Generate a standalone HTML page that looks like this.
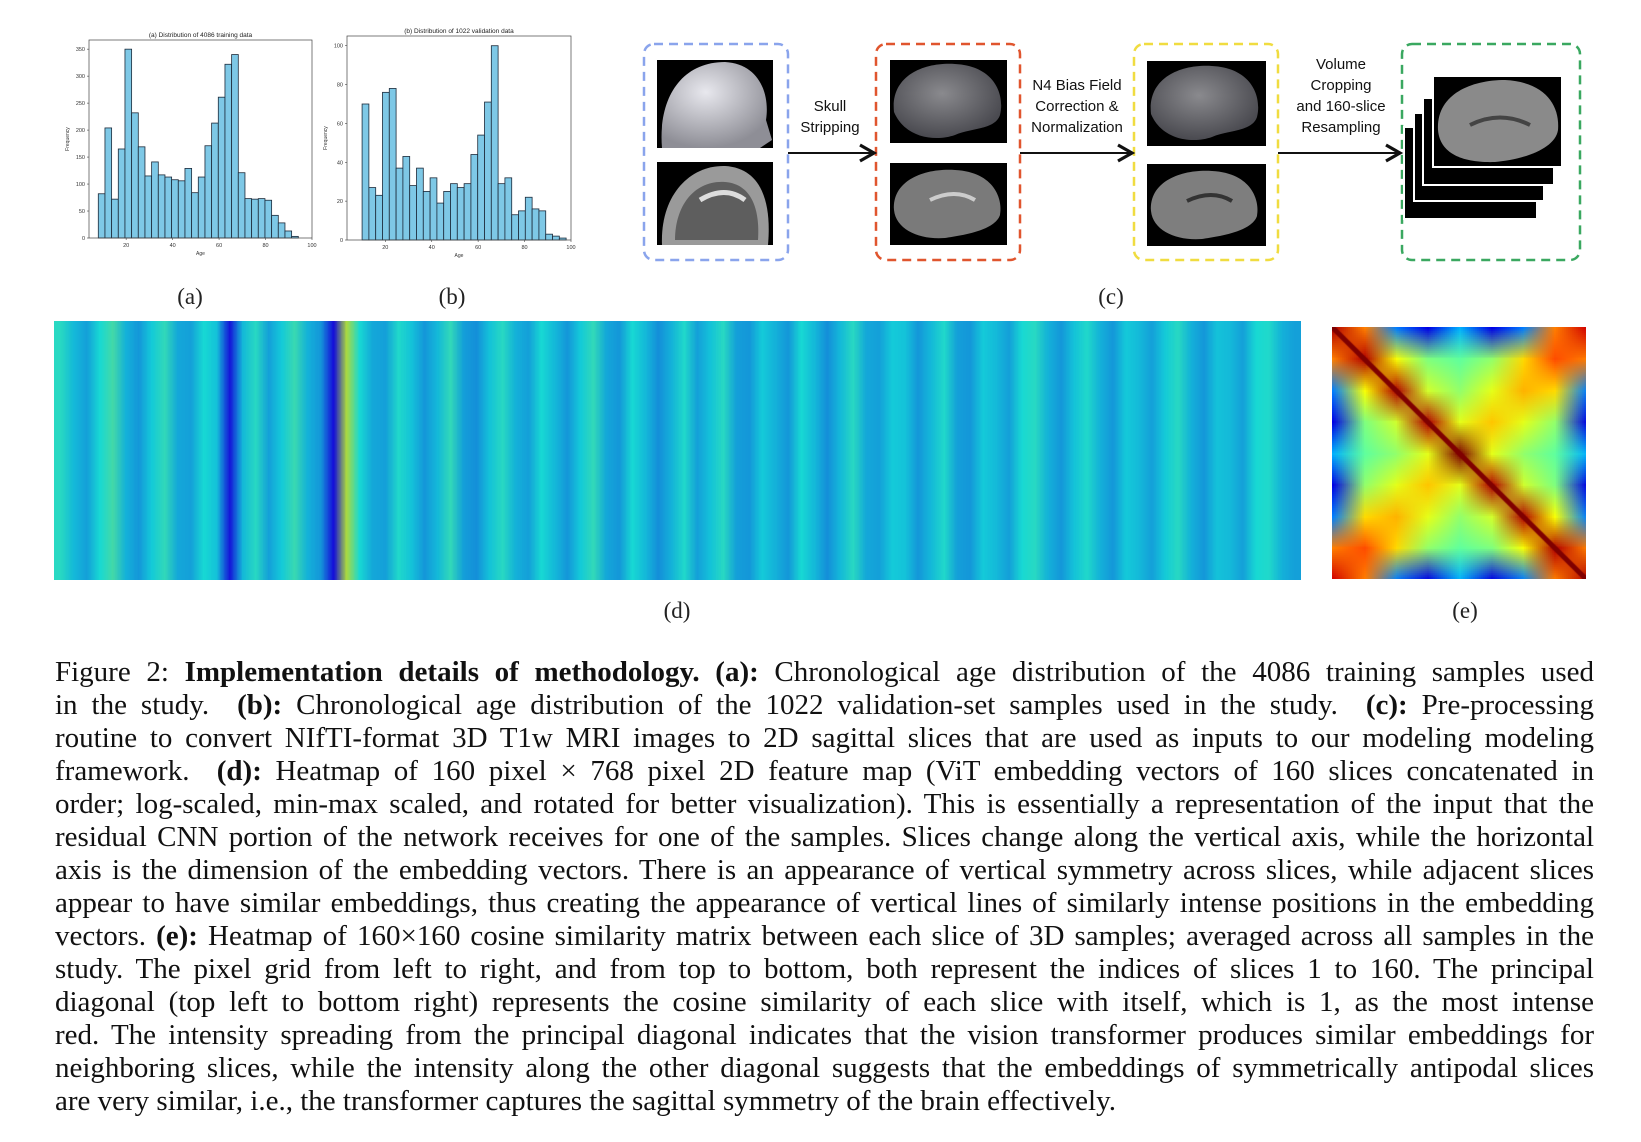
<!DOCTYPE html>
<html><head><meta charset="utf-8">
<style>
html,body{margin:0;padding:0;background:#fff;}
#root{position:relative;width:1641px;height:1142px;overflow:hidden;background:#fff;}
.lbl{position:absolute;font-family:"Liberation Serif",serif;font-size:23px;color:#222;transform:translateX(-50%);}
.ft{position:absolute;font-family:"Liberation Sans",sans-serif;font-size:15px;color:#111;text-align:center;line-height:21px;transform:translateX(-50%);white-space:nowrap;}
#caption{position:absolute;left:55px;top:656px;width:1539px;font-family:"Liberation Serif",serif;font-size:29px;color:#111;}
#caption div{height:33px;line-height:33px;text-align:justify;text-align-last:justify;white-space:nowrap;overflow:visible;}
#caption div.last{text-align-last:left;}
</style></head><body>
<div id="root">

<svg id="histA" style="position:absolute;left:0;top:0" width="330" height="260"></svg>
<svg id="histB" style="position:absolute;top:0;left:320px" width="270" height="260"></svg>

<div class="lbl" style="left:190px;top:284px">(a)</div>
<div class="lbl" style="left:452px;top:284px">(b)</div>
<div class="lbl" style="left:1111px;top:284px">(c)</div>
<div class="lbl" style="left:677px;top:598px">(d)</div>
<div class="lbl" style="left:1465px;top:598px">(e)</div>

<svg style="position:absolute;left:0;top:0" width="1641" height="280">
<defs><marker id="ah" markerWidth="10" markerHeight="10" refX="8" refY="5" orient="auto"><path d="M1,1 L8,5 L1,9" fill="none" stroke="#111" stroke-width="1.6"/></marker>
<radialGradient id="brain" cx="45%" cy="40%" r="60%"><stop offset="0" stop-color="#8a8a8e"/><stop offset="1" stop-color="#4a4a50"/></radialGradient>
<radialGradient id="head" cx="40%" cy="35%" r="65%"><stop offset="0" stop-color="#e8e8ee"/><stop offset="1" stop-color="#8e8e96"/></radialGradient></defs>
<rect x="644" y="44" width="144" height="216" rx="10" fill="none" stroke="#8aa4ec" stroke-width="2.5" stroke-dasharray="9,6"/>
<rect x="876" y="44" width="144" height="216" rx="10" fill="none" stroke="#e0552e" stroke-width="2.5" stroke-dasharray="9,6"/>
<rect x="1134" y="44" width="144" height="216" rx="10" fill="none" stroke="#f0dc40" stroke-width="2.5" stroke-dasharray="9,6"/>
<rect x="1402" y="44" width="178" height="216" rx="10" fill="none" stroke="#3aa860" stroke-width="2.5" stroke-dasharray="9,6"/>
<g><rect x="657" y="60" width="116" height="88" fill="#000"/><path d="M662,148 C658,100 680,62 725,62 C760,64 770,95 766,120 L772,140 L760,148 Z" fill="url(#head)"/></g>
<g><rect x="657" y="162" width="116" height="83" fill="#000"/><path d="M662,245 C660,195 690,165 725,166 C760,168 772,200 768,245 Z" fill="#9a9a9a"/><path d="M675,240 C675,205 695,180 725,182 C752,184 760,210 758,240 Z" fill="#5e5e5e"/><path d="M700,200 Q725,185 745,200" stroke="#ddd" stroke-width="5" fill="none"/></g>
<g><rect x="890" y="60" width="117" height="83" fill="#000"/><path d="M894,112 C890,75 925,62 955,64 C995,66 1005,95 1000,115 C995,130 970,128 955,135 C935,142 905,138 894,112 Z" fill="url(#brain)"/></g>
<g><rect x="890" y="163" width="117" height="82" fill="#000"/><path d="M894,210 C892,180 925,168 955,170 C995,172 1003,200 1000,215 C995,230 965,235 945,238 C920,240 896,230 894,210 Z" fill="#7a7a7a"/><path d="M930,200 Q955,188 975,200" stroke="#ccc" stroke-width="4" fill="none"/></g>
<g><rect x="1147" y="61" width="119" height="85" fill="#000"/><path d="M1151,114 C1147,77 1182,64 1212,66 C1252,68 1262,97 1257,117 C1252,132 1227,130 1212,137 C1192,144 1162,140 1151,114 Z" fill="url(#brain)"/></g>
<g><rect x="1147" y="164" width="119" height="82" fill="#000"/><path d="M1151,211 C1149,181 1182,169 1212,171 C1252,173 1260,201 1257,216 C1252,231 1222,236 1202,239 C1177,241 1153,231 1151,211 Z" fill="#7e7e7e"/><path d="M1187,201 Q1212,189 1232,201" stroke="#333" stroke-width="4" fill="none"/></g>
<g>
<rect x="1404" y="127" width="133" height="92" fill="#000" stroke="#fff" stroke-width="2"/>
<rect x="1414" y="113" width="130" height="88" fill="#000" stroke="#fff" stroke-width="2"/>
<rect x="1423" y="98" width="131" height="87" fill="#000" stroke="#fff" stroke-width="2"/>
<rect x="1433" y="76" width="129" height="91" fill="#000" stroke="#fff" stroke-width="2"/>
<path d="M1438,130 C1436,95 1470,80 1505,80 C1545,82 1560,105 1558,130 C1555,150 1520,160 1495,162 C1465,163 1440,155 1438,130 Z" fill="#8a8a8a"/>
<path d="M1470,125 Q1500,110 1530,125" stroke="#444" stroke-width="4" fill="none"/></g>
<line x1="788" y1="153" x2="874" y2="153" stroke="#111" stroke-width="2" marker-end="url(#ah)"/>
<line x1="1020" y1="153" x2="1132" y2="153" stroke="#111" stroke-width="2" marker-end="url(#ah)"/>
<line x1="1278" y1="153" x2="1400" y2="153" stroke="#111" stroke-width="2" marker-end="url(#ah)"/>
</svg>
<div class="ft" style="left:830px;top:96px">Skull<br>Stripping</div>
<div class="ft" style="left:1077px;top:75px">N4 Bias Field<br>Correction &amp;<br>Normalization</div>
<div class="ft" style="left:1341px;top:54px">Volume<br>Cropping<br>and 160-slice<br>Resampling</div>

<canvas id="heatD" width="1247" height="259" style="position:absolute;left:54px;top:321px"></canvas>
<canvas id="heatE" width="254" height="252" style="position:absolute;left:1332px;top:327px"></canvas>

<div id="caption">
<div>Figure 2: <b>Implementation details of methodology. (a):</b> Chronological age distribution of the 4086 training samples used</div>
<div>in the study. &nbsp;<b>(b):</b> Chronological age distribution of the 1022 validation-set samples used in the study. &nbsp;<b>(c):</b> Pre-processing</div>
<div>routine to convert NIfTI-format 3D T1w MRI images to 2D sagittal slices that are used as inputs to our modeling modeling</div>
<div>framework. &nbsp;<b>(d):</b> Heatmap of 160 pixel × 768 pixel 2D feature map (ViT embedding vectors of 160 slices concatenated in</div>
<div>order; log-scaled, min-max scaled, and rotated for better visualization). This is essentially a representation of the input that the</div>
<div>residual CNN portion of the network receives for one of the samples. Slices change along the vertical axis, while the horizontal</div>
<div>axis is the dimension of the embedding vectors. There is an appearance of vertical symmetry across slices, while adjacent slices</div>
<div>appear to have similar embeddings, thus creating the appearance of vertical lines of similarly intense positions in the embedding</div>
<div>vectors. <b>(e):</b> Heatmap of 160×160 cosine similarity matrix between each slice of 3D samples; averaged across all samples in the</div>
<div>study. The pixel grid from left to right, and from top to bottom, both represent the indices of slices 1 to 160. The principal</div>
<div>diagonal (top left to bottom right) represents the cosine similarity of each slice with itself, which is 1, as the most intense</div>
<div>red. The intensity spreading from the principal diagonal indicates that the vision transformer produces similar embeddings for</div>
<div>neighboring slices, while the intensity along the other diagonal suggests that the embeddings of symmetrically antipodal slices</div>
<div class="last">are very similar, i.e., the transformer captures the sagittal symmetry of the brain effectively.</div>
</div>
</div>

<script>
const trainCounts=[82,204,72,165,350,232,169,115,141,117,113,108,106,129,84,113,171,213,261,322,340,121,73,72,73,70,42,28,13,3];
const valCounts=[70,27,23,76,78,37,43,28,37,25,32,19,25,29,27,29,44,54,71,100,29,32,13,15,22,16,15,3,2,1];
const trainYTicks=[0,50,100,150,200,250,300,350];
const valYTicks=[0,20,40,60,80,100];
const xTicks=[20,40,60,80,100];
const dColumns=[0.4,0.34,0.31,0.38,0.43,0.33,0.3,0.36,0.41,0.32,0.31,0.38,0.35,0.15,0.34,0.4,0.31,0.36,0.42,0.33,0.3,0.14,0.55,0.38,0.32,0.31,0.39,0.35,0.3,0.34,0.41,0.31,0.29,0.35,0.4,0.33,0.31,0.38,0.34,0.3,0.36,0.41,0.32,0.3,0.38,0.34,0.29,0.33,0.39,0.31,0.35,0.4,0.31,0.3,0.36,0.33,0.3,0.38,0.34,0.29,0.34,0.4,0.32,0.31,0.36,0.35,0.3,0.34,0.39,0.31,0.3,0.36,0.34,0.31,0.38,0.4,0.33,0.3,0.35,0.39,0.33,0.3,0.36,0.34,0.31,0.36,0.4,0.33,0.3,0.35,0.34,0.31,0.38,0.39,0.33,0.31];
const eRows=[
[0.95,0.75,0.25,0.1,0.3,0.1,0.25,0.75,0.92],
[0.75,0.95,0.62,0.5,0.47,0.52,0.66,0.8,0.75],
[0.25,0.62,0.95,0.58,0.52,0.6,0.7,0.66,0.25],
[0.1,0.5,0.58,0.95,0.6,0.68,0.6,0.52,0.1],
[0.3,0.47,0.52,0.6,1.0,0.6,0.52,0.47,0.3],
[0.1,0.52,0.6,0.68,0.6,0.95,0.58,0.5,0.1],
[0.25,0.66,0.7,0.6,0.52,0.58,0.95,0.62,0.25],
[0.75,0.8,0.66,0.52,0.47,0.5,0.62,0.95,0.75],
[0.92,0.75,0.25,0.1,0.3,0.1,0.25,0.75,0.95]];
const eDiag=[1.0];

const NS='http://www.w3.org/2000/svg';
function mk(tag,attrs,parent){const e=document.createElementNS(NS,tag);for(const k in attrs)e.setAttribute(k,attrs[k]);parent.appendChild(e);return e;}
function hist(svg,counts,start,bw,xd,yd,box,yTicks,title){
  const [L,T,R,B]=box;
  const xs=v=>L+(v-xd[0])/(xd[1]-xd[0])*(R-L);
  const ys=v=>B-(v-yd[0])/(yd[1]-yd[0])*(B-T);
  counts.forEach((c,i)=>{
    const r=mk('rect',{x:xs(start+i*bw),y:ys(c),width:xs(start+(i+1)*bw)-xs(start+i*bw),height:B-ys(c),fill:'#7ec8e6',stroke:'#1c2a3a','stroke-width':0.8},svg);
    
    
  });
  mk('rect',{x:L,y:T,width:R-L,height:B-T,fill:'none',stroke:'#444','stroke-width':0.7},svg);
  yTicks.forEach(t=>{const y=ys(t);mk('line',{x1:L-2,x2:L,y1:y,y2:y,stroke:'#444','stroke-width':0.6},svg);
    const tx=mk('text',{x:L-4,y:y+2,'font-size':5.5,'text-anchor':'end','font-family':'Liberation Sans, sans-serif',fill:'#333'},svg);tx.textContent=t;
    
    });
  xTicks.forEach(t=>{const x=xs(t);mk('line',{x1:x,x2:x,y1:B,y2:B+2,stroke:'#444','stroke-width':0.6},svg);
    const tx=mk('text',{x:x,y:B+9,'font-size':5.5,'text-anchor':'middle','font-family':'Liberation Sans, sans-serif',fill:'#333'},svg);tx.textContent=t;
    
    });
  const tt=mk('text',{x:(L+R)/2,y:T-3,'font-size':6.5,'text-anchor':'middle','font-family':'Liberation Sans, sans-serif',fill:'#222'},svg);tt.textContent=title;
  
  
  const xl=mk('text',{x:(L+R)/2,y:B+17,'font-size':5,'text-anchor':'middle','font-family':'Liberation Sans, sans-serif',fill:'#333'},svg);xl.textContent='Age';
  
  
  const yl=mk('text',{x:0,y:0,'font-size':5,'text-anchor':'middle','font-family':'Liberation Sans, sans-serif',fill:'#333',transform:`translate(${L-20},${(T+B)/2}) rotate(-90)`},svg);yl.textContent='Frequency';
  
  
}
hist(document.getElementById('histA'),trainCounts,8,2.87,[4,100],[0,367],[89,40,312,238],trainYTicks,'(a) Distribution of 4086 training data');
hist(document.getElementById('histB'),valCounts,10,2.93,[3.5,100],[0,105],[27,36,251,240],valYTicks,'(b) Distribution of 1022 validation data');

function jet(v){v=Math.max(0,Math.min(1,v));
  const r=Math.max(0,Math.min(1,1.5-Math.abs(4*v-3))),g=Math.max(0,Math.min(1,1.5-Math.abs(4*v-2))),b=Math.max(0,Math.min(1,1.5-Math.abs(4*v-1)));
  return [r*255|0,g*255|0,b*255|0];}
(function(){
  const n=dColumns.length,src=document.createElement('canvas');src.width=n;src.height=1;
  const sx=src.getContext('2d'),id=sx.createImageData(n,1);
  dColumns.forEach((v,i)=>{const c=jet(v);id.data[i*4]=c[0]*0.85+20;id.data[i*4+1]=c[1]*0.85;id.data[i*4+2]=c[2]*0.85;id.data[i*4+3]=255;});
  sx.putImageData(id,0,0);
  const cv=document.getElementById('heatD'),ctx=cv.getContext('2d');ctx.imageSmoothingEnabled=true;ctx.drawImage(src,0,0,n,1,0,0,cv.width,cv.height);
})();
(function(){
  const n=eRows.length,src=document.createElement('canvas');src.width=n;src.height=n;
  const sx=src.getContext('2d'),id=sx.createImageData(n,n);
  eRows.forEach((row,i)=>row.forEach((v,j)=>{const c=jet(v),k=(i*n+j)*4;id.data[k]=c[0];id.data[k+1]=c[1];id.data[k+2]=c[2];id.data[k+3]=255;}));
  sx.putImageData(id,0,0);
  const cv=document.getElementById('heatE'),ctx=cv.getContext('2d');ctx.imageSmoothingEnabled=true;
  ctx.drawImage(src,0.5,0.5,n-1,n-1,0,0,cv.width,cv.height);
  const c=jet(eDiag[0]);
  ctx.strokeStyle=`rgb(${c[0]},${c[1]},${c[2]})`;ctx.lineWidth=5;
  ctx.beginPath();ctx.moveTo(0,0);ctx.lineTo(cv.width,cv.height);ctx.stroke();
})();
</script>
</body></html>
